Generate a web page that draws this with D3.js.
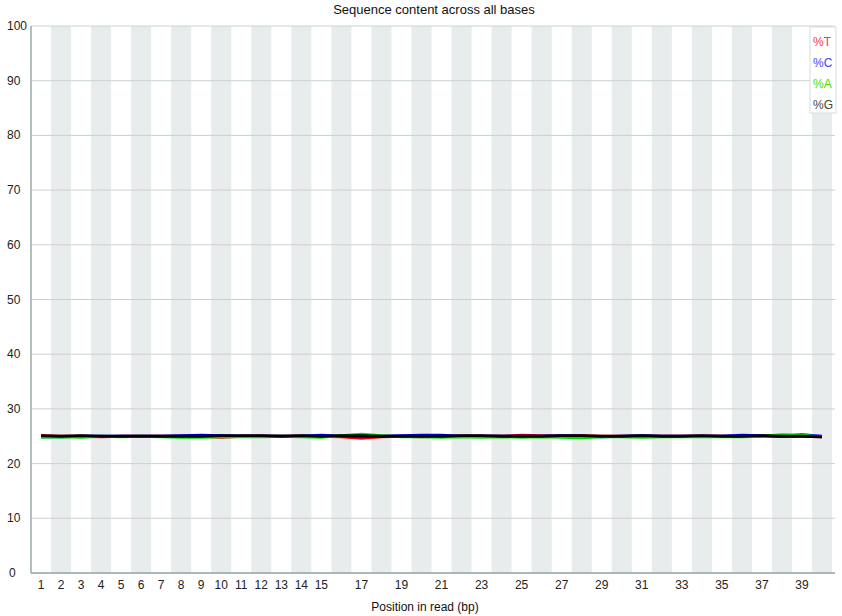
<!DOCTYPE html>
<html>
<head>
<meta charset="utf-8">
<script src="https://cdn.jsdelivr.net/npm/d3@7"></script>
<style>
  body { margin: 0; background: #fff; }
  text { font-family: "Liberation Sans", Arial, sans-serif; }
</style>
</head>
<body>
<div id="chart"></div>
<script>
// positions in read (bp)
var positions = d3.range(1, 41);
// labels shown on the x axis
var xLabels = [1,2,3,4,5,6,7,8,9,10,11,12,13,14,15,17,19,21,23,25,27,29,31,33,35,37,39];
var yTicks = [0,10,20,30,40,50,60,70,80,90,100];

// % of each base per position
var pctT = [25.1,25.0,25.0,24.9,25.0,25.0,25.0,25.0,25.0,24.8,25.0,25.0,25.0,25.0,25.0,24.9,24.6,24.9,25.0,24.9,
            25.0,25.0,25.0,25.0,25.2,25.1,25.0,25.1,25.0,25.0,25.0,25.0,25.0,25.0,25.0,25.0,25.0,25.0,25.0,24.9];
var pctC = [24.9,24.9,25.0,25.0,25.0,25.0,25.0,25.1,25.2,25.1,25.0,25.0,25.0,25.0,25.2,25.0,24.9,25.0,25.1,25.2,
            25.2,25.0,25.0,25.0,25.0,25.0,25.1,25.0,24.9,25.0,25.1,25.0,25.0,25.0,25.0,25.2,25.1,25.0,25.3,25.0];
var pctA = [24.8,24.9,24.8,25.0,24.9,25.0,24.9,24.8,24.8,24.9,24.9,24.9,25.0,24.9,24.8,25.1,25.4,25.1,24.9,24.9,
            24.8,24.9,24.8,24.9,24.8,24.9,24.8,24.7,24.9,24.9,24.8,24.9,24.9,24.9,24.9,24.9,25.0,25.3,25.2,24.9];
var pctG = [25.1,25.0,25.1,25.0,25.0,25.0,25.0,25.0,25.0,25.1,25.1,25.1,25.0,25.1,25.0,25.1,25.1,25.0,25.0,25.0,
            25.0,25.1,25.1,25.0,25.0,25.0,25.1,25.1,25.0,25.0,25.1,25.0,25.0,25.1,25.0,25.0,25.1,25.0,25.0,24.9];

var seriesNames = ["%T", "%C", "%A", "%G"];
var seriesColors = ["#ff0000", "#0000ff", "#00dd00", "#000000"];
var legendColors = ["#ff3344", "#4444ff", "#44dd00", "#444444"];
var seriesData = [pctT, pctC, pctA, pctG];

var W = 842, H = 616;
var margin = {top: 26, right: 7, bottom: 43, left: 31};
var width = W - margin.left - margin.right,
    height = H - margin.top - margin.bottom;

var svg = d3.select("#chart").append("svg")
    .attr("width", W)
    .attr("height", H);

var g = svg.append("g")
    .attr("transform", "translate(" + margin.left + "," + margin.top + ")");

var x = d3.scaleBand().domain(positions).range([0, width - 3]).padding(0);
var y = d3.scaleLinear().domain([0, 100]).range([height, 0]);

// alternating stripes
g.selectAll(".stripe")
  .data(positions.filter(function(d) { return d % 2 == 0; }))
  .enter().append("rect")
    .attr("class", "stripe")
    .attr("x", function(d) { return x(d); })
    .attr("y", 0)
    .attr("width", x.bandwidth())
    .attr("height", height)
    .attr("fill", "#e8ecec");

// horizontal grid
g.selectAll(".grid")
  .data(yTicks)
  .enter().append("line")
    .attr("x1", 0).attr("x2", width)
    .attr("y1", function(d) { return y(d); })
    .attr("y2", function(d) { return y(d); })
    .attr("stroke", "#c8d2d2")
    .attr("stroke-width", 1);

// axes lines
g.append("line").attr("x1", 0).attr("x2", 0).attr("y1", 0).attr("y2", height)
  .attr("stroke", "#9aa8a8").attr("stroke-width", 1.5);
g.append("line").attr("x1", 0).attr("x2", width).attr("y1", height).attr("y2", height)
  .attr("stroke", "#9aa8a8").attr("stroke-width", 1.5);

// y labels (left aligned like the original)
svg.selectAll(".ylab")
  .data(yTicks)
  .enter().append("text")
    .attr("x", function(d) { return d == 0 ? 9 : 7; })
    .attr("y", function(d) { return margin.top + y(d) + 4; })
    .attr("font-size", 12)
    .attr("fill", "#222")
    .text(function(d) { return d; });

// x labels
svg.selectAll(".xlab")
  .data(xLabels)
  .enter().append("text")
    .attr("x", function(d) { return margin.left + x(d) + x.bandwidth() / 2; })
    .attr("y", margin.top + height + 16)
    .attr("text-anchor", "middle")
    .attr("font-size", 12)
    .attr("fill", "#222")
    .text(function(d) { return d; });

// titles
svg.append("text")
  .attr("x", 434)
  .attr("y", 14)
  .attr("text-anchor", "middle")
  .attr("font-size", 13)
  .attr("fill", "#111")
  .text("Sequence content across all bases");

svg.append("text")
  .attr("x", 425)
  .attr("y", 611)
  .attr("text-anchor", "middle")
  .attr("font-size", 12)
  .attr("fill", "#111")
  .text("Position in read (bp)");

// lines
var line = d3.line()
  .x(function(d, i) { return x(positions[i]) + x.bandwidth() / 2; })
  .y(function(d) { return y(d); });

g.selectAll(".series")
  .data(seriesData)
  .enter().append("path")
    .attr("class", "series")
    .attr("d", line)
    .attr("fill", "none")
    .attr("stroke", function(d, i) { return seriesColors[i]; })
    .attr("stroke-width", 2.8);

// legend
var legend = svg.append("g").attr("transform", "translate(810,27)");
legend.append("rect")
  .attr("x", 0).attr("y", 0)
  .attr("width", 26).attr("height", 86)
  .attr("fill", "#fff")
  .attr("stroke", "#d8dede");
legend.selectAll("text")
  .data(seriesNames)
  .enter().append("text")
    .attr("x", 3)
    .attr("y", function(d, i) { return 19 + i * 21; })
    .attr("font-size", 12)
    .attr("fill", function(d, i) { return legendColors[i]; })
    .text(function(d) { return d; });
</script>
</body>
</html>
